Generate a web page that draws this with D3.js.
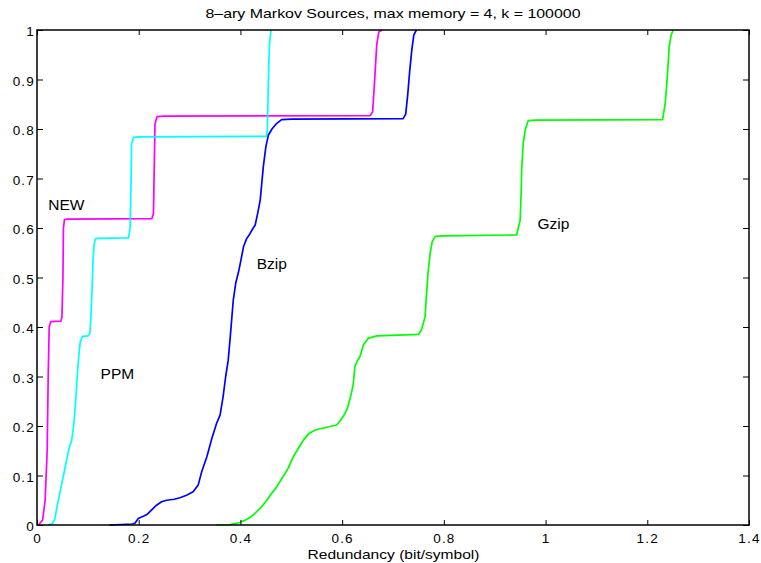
<!DOCTYPE html>
<html>
<head>
<meta charset="utf-8">
<script src="https://cdn.jsdelivr.net/npm/d3@7"></script>
<style>
  body { margin: 0; background: #fff; }
  #plot { width: 761px; height: 563px; }
  text { font-family: "Liberation Sans", Arial, Helvetica, sans-serif; fill: #000; }
</style>
</head>
<body>
<div id="plot"></div>
<script>
// data: [redundancy, fraction]
var newData = [[0.003,0],[0.011,0.01],[0.016,0.05],[0.020,0.15],[0.022,0.3],[0.024,0.40],[0.027,0.411],[0.047,0.412],[0.049,0.42],[0.051,0.5],[0.052,0.6],[0.054,0.617],[0.06,0.618],[0.226,0.619],[0.229,0.63],[0.231,0.75],[0.232,0.81],[0.236,0.825],[0.25,0.826],[0.655,0.827],[0.66,0.835],[0.664,0.9],[0.668,0.97],[0.672,0.996],[0.678,1]];
var ppmData = [[0.022,0],[0.03,0.003],[0.035,0.012],[0.04,0.04],[0.046,0.07],[0.052,0.1],[0.058,0.13],[0.063,0.155],[0.068,0.17],[0.072,0.2],[0.076,0.25],[0.079,0.3],[0.082,0.34],[0.085,0.37],[0.089,0.381],[0.1,0.382],[0.104,0.387],[0.106,0.42],[0.108,0.47],[0.11,0.53],[0.112,0.565],[0.115,0.578],[0.12,0.579],[0.18,0.58],[0.183,0.6],[0.185,0.7],[0.186,0.77],[0.19,0.783],[0.2,0.784],[0.451,0.785],[0.453,0.8],[0.455,0.9],[0.457,0.97],[0.46,1]];
var bzipData = [[0.142,0],[0.188,0.002],[0.193,0.004],[0.199,0.013],[0.21,0.018],[0.216,0.021],[0.225,0.03],[0.235,0.04],[0.245,0.047],[0.255,0.05],[0.27,0.052],[0.281,0.055],[0.294,0.06],[0.307,0.067],[0.317,0.081],[0.324,0.108],[0.334,0.138],[0.343,0.172],[0.353,0.205],[0.36,0.222],[0.366,0.26],[0.371,0.3],[0.376,0.333],[0.38,0.38],[0.383,0.4175],[0.386,0.455],[0.391,0.49],[0.396,0.51],[0.401,0.535],[0.406,0.562],[0.412,0.578],[0.419,0.589],[0.424,0.598],[0.429,0.606],[0.434,0.63],[0.439,0.657],[0.445,0.724],[0.45,0.764],[0.455,0.788],[0.462,0.8],[0.471,0.811],[0.481,0.819],[0.5,0.82],[0.72,0.821],[0.725,0.83],[0.729,0.87],[0.733,0.919],[0.737,0.96],[0.741,0.99],[0.746,1]];
var gzipData = [[0.353,0],[0.38,0.001],[0.399,0.005],[0.41,0.01],[0.419,0.015],[0.43,0.025],[0.44,0.035],[0.452,0.05],[0.46,0.062],[0.47,0.075],[0.484,0.098],[0.494,0.115],[0.504,0.138],[0.514,0.155],[0.524,0.172],[0.535,0.185],[0.547,0.192],[0.576,0.199],[0.589,0.202],[0.596,0.21],[0.602,0.219],[0.61,0.235],[0.615,0.253],[0.619,0.27],[0.622,0.286],[0.625,0.32],[0.63,0.332],[0.635,0.34],[0.642,0.364],[0.651,0.377],[0.668,0.382],[0.75,0.385],[0.756,0.394],[0.763,0.421],[0.766,0.468],[0.769,0.51],[0.773,0.549],[0.777,0.572],[0.783,0.583],[0.8,0.584],[0.943,0.586],[0.95,0.616],[0.952,0.67],[0.953,0.717],[0.956,0.77],[0.96,0.798],[0.966,0.817],[0.98,0.818],[1.23,0.819],[1.235,0.85],[1.238,0.886],[1.241,0.93],[1.243,0.966],[1.247,0.99],[1.251,1]];

var seriesNames = ['NEW','PPM','Bzip','Gzip'];
var seriesColors = ['#ff00ff','#00ffff','#0000ff','#00ff00'];
var seriesData = [newData, ppmData, bzipData, gzipData];
// label anchor points in data units (left, baseline)
var labelPos = [[0.022,0.637],[0.125,0.294],[0.432,0.518],[0.984,0.598]];

var xTicks = [0,0.2,0.4,0.6,0.8,1,1.2,1.4];
var yTicks = [0,0.1,0.2,0.3,0.4,0.5,0.6,0.7,0.8,0.9,1];

var titleText = '8\u2013ary Markov Sources, max memory = 4, k = 100000';
var xLabelText = 'Redundancy (bit/symbol)';

//Set up the drawing environment here
var margin = {t:30,r:12,b:38,l:37};
var width = 761-margin.l-margin.r,
    height = 563-margin.t-margin.b;

var svg = d3.select('#plot')
    .append('svg')
    .attr('width', 761)
    .attr('height', 563);

var plot = svg.append('g')
    .attr('transform','translate('+margin.l+','+margin.t+')');

var x = d3.scaleLinear().domain([0,1.4]).range([0,width]);
var y = d3.scaleLinear().domain([0,1]).range([height,0]);

// curves
var line = d3.line()
    .x(function(d){ return x(d[0]); })
    .y(function(d){ return y(d[1]); });

seriesData.forEach(function(data, i){
    plot.append('path')
        .datum(data)
        .attr('d', line)
        .style('fill','none')
        .style('stroke', seriesColors[i])
        .style('stroke-width', 1.7)
        .style('stroke-linejoin','round');
});

// axes, ticks pointing inward on all four sides
var fmt = function(d){ return d3.format('')(+d.toFixed(1)); };

var xAxis = plot.append('g')
    .attr('transform','translate(0,'+height+')')
    .call(d3.axisBottom(x).tickValues(xTicks).tickSizeInner(-5).tickSizeOuter(0).tickPadding(8).tickFormat(fmt));
plot.append('g')
    .call(d3.axisTop(x).tickValues(xTicks).tickSizeInner(-5).tickSizeOuter(0).tickFormat(''));
var yAxis = plot.append('g')
    .call(d3.axisLeft(y).tickValues(yTicks).tickSizeInner(-6).tickSizeOuter(0).tickPadding(2).tickFormat(fmt));
plot.append('g')
    .attr('transform','translate('+width+',0)')
    .call(d3.axisRight(y).tickValues(yTicks).tickSizeInner(-6).tickSizeOuter(0).tickFormat(''));

plot.selectAll('.domain').remove();
plot.selectAll('.tick line').style('stroke','#000').style('stroke-width',1);
plot.selectAll('.tick text')
    .style('font-size','13.5px')
    .style('letter-spacing','1.2px')
    .style('font-family','"Liberation Sans", Arial, sans-serif');
yAxis.selectAll('.tick text').attr('dy','0.42em');

plot.append('rect')
    .attr('width', width)
    .attr('height', height)
    .style('fill','none')
    .style('stroke','#000')
    .style('stroke-width',1.5);

// series labels
seriesNames.forEach(function(name, i){
    plot.append('text')
        .attr('x', x(labelPos[i][0]))
        .attr('y', y(labelPos[i][1]))
        .style('font-size','15.5px')
        .text(name);
});

// title and axis label
svg.append('text')
    .attr('x', margin.l + width/2)
    .attr('y', 18)
    .attr('text-anchor','middle')
    .attr('textLength', 375)
    .attr('lengthAdjust','spacingAndGlyphs')
    .style('font-size','13.5px')
    .text(titleText);

svg.append('text')
    .attr('x', margin.l + width/2 + 0.5)
    .attr('y', 559)
    .attr('text-anchor','middle')
    .attr('textLength', 172)
    .attr('lengthAdjust','spacingAndGlyphs')
    .style('font-size','13.5px')
    .text(xLabelText);
</script>
</body>
</html>
